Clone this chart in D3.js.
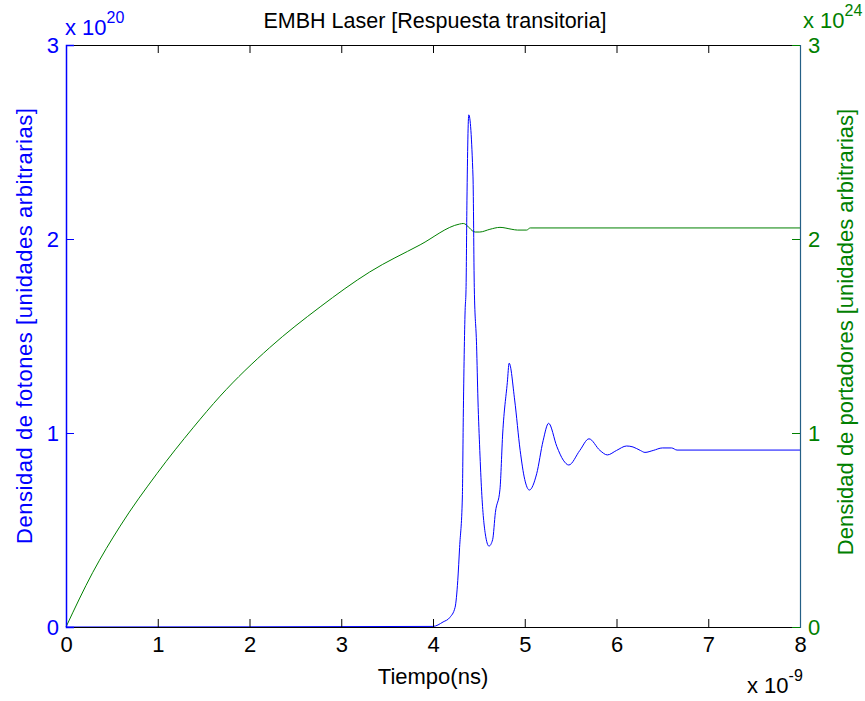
<!DOCTYPE html>
<html>
<head>
<meta charset="utf-8">
<script src="https://cdn.jsdelivr.net/npm/d3@7"></script>
<style>
  body { margin: 0; background: #fff; }
  text { font-family: "Liberation Sans", Arial, sans-serif; }
</style>
</head>
<body>
<svg width="865" height="701"></svg>
<script>
// tiempo (ns) y densidad de fotones (x 1e20)
var photonT = [0, 4.0, 4.11, 4.185, 4.24, 4.27, 4.29, 4.32, 4.33, 4.35, 4.36, 4.37, 4.39,
  4.436, 4.45, 4.475, 4.49, 4.51, 4.53, 4.57, 4.61, 4.65, 4.68, 4.73, 4.76, 4.81, 4.83,
  4.89, 4.95, 5.0, 5.05, 5.13, 5.2, 5.26, 5.35, 5.42, 5.48, 5.6, 5.7, 5.82, 5.9, 6.0,
  6.11, 6.18, 6.26, 6.31, 6.4, 6.5, 6.6, 6.66, 8.0];
var photonN = [0, 0.003, 0.026, 0.05, 0.10, 0.24, 0.41, 0.67, 1.08, 1.63, 1.74, 2.2, 2.64,
  2.32, 1.75, 1.45, 1.17, 0.91, 0.7, 0.48, 0.417, 0.45, 0.59, 0.71, 1.0, 1.26, 1.36,
  1.17, 0.91, 0.76, 0.706, 0.79, 0.96, 1.05, 0.93, 0.86, 0.835, 0.91, 0.97, 0.91, 0.887, 0.91,
  0.933, 0.928, 0.91, 0.90, 0.91, 0.923, 0.923, 0.912, 0.912];

// tiempo (ns) y densidad de portadores (x 1e24)
var carrierT = [0, 0.29, 0.59, 0.99, 1.39, 1.68, 2.22, 2.77, 3.31, 3.86, 4.29, 4.33,
  4.46, 4.51, 4.62, 4.73, 4.86, 4.92, 5.02, 5.06, 8.0];
var carrierN = [0, 0.28, 0.52, 0.79, 1.03, 1.19, 1.44, 1.65, 1.83, 1.97, 2.077, 2.08,
  2.036, 2.036, 2.05, 2.06, 2.05, 2.046, 2.046, 2.057, 2.057];

var xTicks = [0, 1, 2, 3, 4, 5, 6, 7, 8];
var leftTicks = [0, 1, 2, 3];
var rightTicks = [0, 1, 2, 3];

var blue = "#0000ff", green = "#008000";
var fs = 22;
var svg = d3.select("svg");
var L = 66, R = 800, T = 45, B = 627;

var x = d3.scaleLinear().domain([0, 8]).range([L, R]);
var yL = d3.scaleLinear().domain([0, 3]).range([B, T]);
var yR = d3.scaleLinear().domain([0, 3]).range([B, T]);

// portadores (debajo)
var carrier = carrierT.map((t, i) => [t, carrierN[i]]);
svg.append("path")
  .attr("d", d3.line().curve(d3.curveMonotoneX).x(d => x(d[0])).y(d => yR(d[1]))(carrier))
  .attr("fill", "none").attr("stroke", green).attr("stroke-width", 1);

var photon = photonT.map((t, i) => [t, photonN[i]]);
svg.append("path")
  .attr("d", d3.line().curve(d3.curveMonotoneX).x(d => x(d[0])).y(d => yL(d[1]))(photon))
  .attr("fill", "none").attr("stroke", blue).attr("stroke-width", 1);

// ejes x (abajo y arriba), ticks hacia dentro
var xb = svg.append("g").attr("transform", "translate(0," + B + ")")
  .call(d3.axisBottom(x).tickValues(xTicks).tickSize(-8).tickPadding(12).tickFormat(d3.format("d")));
var xt = svg.append("g").attr("transform", "translate(0," + T + ")")
  .call(d3.axisTop(x).tickValues(xTicks).tickSize(-8).tickFormat(""));
[xb, xt].forEach(g => {
  g.select(".domain").attr("stroke", "#000");
  g.selectAll(".tick line").attr("stroke", "#000");
  g.selectAll("text").attr("font-size", fs).attr("fill", "#000");
});
xb.selectAll("text").attr("dy", "0.6em");

// eje izquierdo
var yl = svg.append("g").attr("transform", "translate(" + L + ",0)")
  .call(d3.axisLeft(yL).tickValues(leftTicks).tickSize(-8).tickPadding(7).tickFormat(d3.format("d")));
yl.select(".domain").attr("stroke", blue).attr("stroke-width", 1.5);
yl.selectAll(".tick line").attr("stroke", blue);
yl.selectAll("text").attr("font-size", fs).attr("fill", blue);

// eje derecho
var yr = svg.append("g").attr("transform", "translate(" + R + ",0)")
  .call(d3.axisRight(yR).tickValues(rightTicks).tickSize(-8).tickPadding(8).tickFormat(d3.format("d")));
yr.select(".domain").attr("stroke", "#245f86").attr("stroke-width", 1.2);
yr.selectAll(".tick line").attr("stroke", green);
yr.selectAll("text").attr("font-size", fs).attr("fill", green);

// multiplicadores
function mult(px, py, exp, color) {
  var t = svg.append("text").attr("x", px).attr("y", py).attr("fill", color).attr("font-size", fs);
  t.append("tspan").text("x 10");
  t.append("tspan").attr("dy", -12).attr("font-size", 16).text(exp);
}
mult(65, 35, "20", blue);
mult(803, 28, "24", green);
mult(747, 693, "-9", "#000");

// titulo y etiquetas
svg.append("text").attr("x", 435).attr("y", 28).attr("text-anchor", "middle")
  .attr("font-size", 21.5).attr("fill", "#000").text("EMBH Laser [Respuesta transitoria]");
svg.append("text").attr("x", 433).attr("y", 684).attr("text-anchor", "middle")
  .attr("font-size", fs).attr("fill", "#000").text("Tiempo(ns)");
svg.append("text").attr("transform", "translate(32,326) rotate(-90)").attr("text-anchor", "middle")
  .attr("font-size", fs).attr("fill", blue)
  .attr("textLength", 436).attr("lengthAdjust", "spacing")
  .text("Densidad de fotones [unidades arbitrarias]");
svg.append("text").attr("transform", "translate(853,332) rotate(-90)").attr("text-anchor", "middle")
  .attr("font-size", fs).attr("fill", green).text("Densidad de portadores [unidades arbitrarias]");
</script>
</body>
</html>
